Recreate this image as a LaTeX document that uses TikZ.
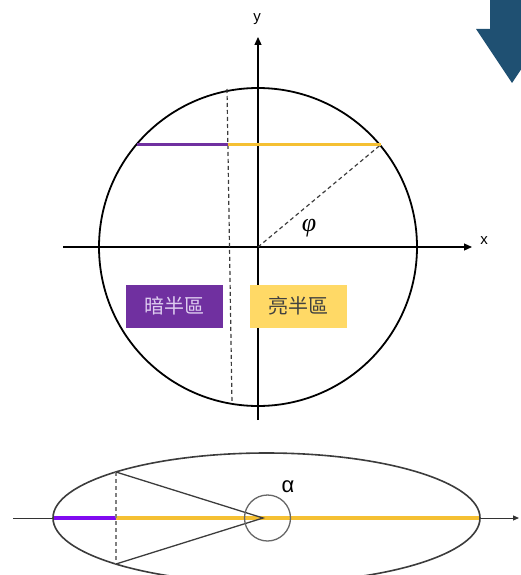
\documentclass[tikz,border=0pt]{standalone}
\usepackage{fontspec}
\setmainfont{Liberation Sans}
\newfontfamily\cjk{Noto Sans CJK TC}
\newfontfamily\greekserif{Liberation Serif}
\usetikzlibrary{arrows.meta}
\definecolor{navy}{RGB}{31,80,114}
\definecolor{darkhalf}{RGB}{112,48,160}
\definecolor{brighthalf}{RGB}{245,192,50}
\definecolor{violet2}{RGB}{128,10,240}
\definecolor{boxyellow}{RGB}{255,217,102}
\definecolor{lavtext}{RGB}{222,205,240}
\definecolor{linegray}{RGB}{60,60,60}
\tikzset{
  outline/.style={draw=black, line width=1.8pt},
  axis/.style={draw=black, line width=1.2pt, -{Triangle[length=8pt,width=7pt]}},
  thinaxis/.style={draw=black!80, line width=1pt, -{Triangle[length=6pt,width=5pt]}},
  guide/.style={draw=linegray, line width=1.2pt, dashed, dash pattern=on 4pt off 3pt},
  chord/.style={line width=3.6pt},
  halfbox/.style={minimum width=97pt, minimum height=43pt, inner sep=0pt, font=\cjk\fontsize{20}{20}\selectfont},
  lbl/.style={inner sep=0pt, font=\fontsize{15}{15}\selectfont},
  ell/.style={draw=linegray, line width=1.6pt},
}
\begin{document}
\begin{tikzpicture}[x=1pt,y=-1pt]
\useasboundingbox (0,0) rectangle (521,575);
\clip (0,0) rectangle (521,575);
% top-right arrow
\fill[navy] (490,-5) -- (490,29) -- (476,29) -- (512,83) -- (548,29) -- (534,29) -- (534,-5) -- cycle;
% circle
\coordinate (O) at (258,247);
\draw[outline] (O) circle[radius=159];
% axes
\coordinate (xs) at (63,247);
\coordinate (xe) at (472,247);
\coordinate (ys) at (258,420);
\coordinate (ye) at (258,37);
\draw[axis] (xs) -- (xe);
\draw[axis] (ys) -- (ye);
\node[lbl] (xlab) at (484,241) {x};
\node[lbl] (ylab) at (257,19) {y};
% guides
\coordinate (T) at (227,89);
\coordinate (B) at (232,404);
\coordinate (CL) at (136.5,144.5);
\coordinate (CM) at (227.5,144.5);
\coordinate (CR) at (381,144.5);
\draw[guide] (T) -- (B);
\draw[guide] (O) -- (CR);
\draw[chord, darkhalf] (CL) -- (CM);
\draw[chord, brighthalf] (CM) -- (CR);
\node[inner sep=0pt, font=\greekserif\itshape\fontsize{26}{26}\selectfont] (phi) at (309,228) {φ};
% boxes
\node[halfbox, fill=darkhalf, text=lavtext] (dark) at (174,306) {暗半區};
\node[halfbox, fill=boxyellow, text=black!75] (bright) at (298,306) {亮半區};
% bottom ellipse
\coordinate (E) at (266.5,518);
\coordinate (as) at (13,518);
\coordinate (ae) at (519,518);
\coordinate (EL) at (53,518);
\coordinate (EM) at (116,518);
\coordinate (ER) at (480,518);
\coordinate (ET) at (116,472);
\coordinate (EB) at (116,564);
\coordinate (apex) at (263,518);
\coordinate (sc) at (267.5,518);
\draw[thinaxis] (as) -- (ae);
\draw[chord, violet2] (EL) -- (EM);
\draw[chord, brighthalf] (EM) -- (ER);
\draw[ell] (E) ellipse[x radius=213.5, y radius=65];
\draw[guide, draw=gray] (ET) -- (EB);
\draw[ell, line width=1.3pt] (ET) -- (apex) -- (EB);
\draw[draw=gray!80!black, line width=1.3pt] (sc) circle[radius=23];
\node[inner sep=0pt, font=\fontsize{22}{22}\selectfont] (alpha) at (288,487) {α};
\end{tikzpicture}
\end{document}
